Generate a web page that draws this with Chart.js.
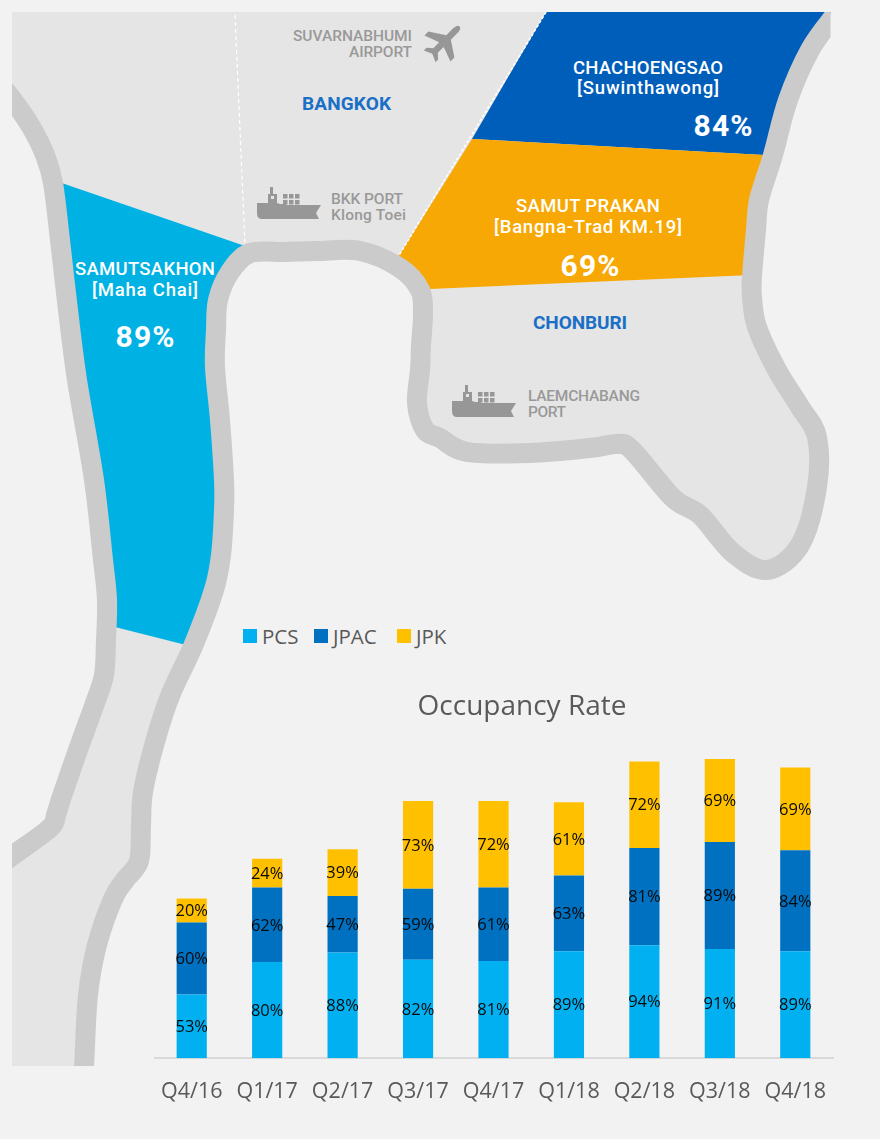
<!DOCTYPE html>
<html>
<head>
<meta charset="utf-8">
<title>Occupancy Rate</title>
<script src="https://cdn.jsdelivr.net/npm/chart.js@4"></script>
<style>
  html, body { margin: 0; padding: 0; background: #f2f2f2; }
  #page { position: relative; width: 880px; height: 1139px; overflow: hidden; background: #f2f2f2; }
  #map { position: absolute; left: 0; top: 0; }
  #map text { font-family: Roboto, sans-serif; }
  #chartBox { position: absolute; left: 154px; top: 680px; width: 736px; height: 429px; }
  #legend { position: absolute; left: 0; top: 624px; height: 24px; font: 20.5px "Open Sans", sans-serif; color: #595959; }
  #legend span { position: absolute; top: -2px; white-space: nowrap; }
  #legend i { position: absolute; top: 5px; width: 14px; height: 14px; }
</style>
</head>
<body>
<div id="page">
  <svg id="map" width="880" height="1139" viewBox="0 0 880 1139">
    <defs>
      <clipPath id="mapClip"><rect x="12" y="12" width="818.5" height="1054"></rect></clipPath>
      <g id="ship" fill="#979797">
        <path d="M0,16 H11 V7 H13 V0 H16 V7 H20 V16 L23,17 H29 V18 H64 L59,26 L62,32 H5 Q0,32 0,26 Z"></path>
        <path d="M14,9 h3 v3 h-3 Z" fill="#e5e5e5"></path>
        <rect x="26" y="7" width="4.5" height="4.5"></rect><rect x="32" y="7" width="4.5" height="4.5"></rect><rect x="38" y="7" width="4.5" height="4.5"></rect>
        <rect x="26" y="13" width="4.5" height="4.5"></rect><rect x="32" y="13" width="4.5" height="4.5"></rect><rect x="38" y="13" width="4.5" height="4.5"></rect>
      </g>
    </defs>
    <g clip-path="url(#mapClip)">
      <path id="land" fill="#e5e5e5"></path>
      <path id="samutsakhon" fill="#00b2e3"></path>
      <path id="chachoengsao" fill="#005ebb"></path>
      <path id="samutprakan" fill="#f7a804"></path>
      <line x1="235" y1="15" x2="245" y2="245" stroke="#fff" stroke-width="1.2" stroke-dasharray="4 3"></line>
      <line x1="546" y1="12" x2="398" y2="257" stroke="#fff" stroke-width="1.6" stroke-dasharray="3 2"></line>
      <path id="leftBank" fill="none" stroke="#cbcbcb" stroke-width="20"></path>
      <path id="rightBank" fill="none" stroke="#cbcbcb" stroke-width="20"></path>
    </g>
    <use href="#ship" x="257" y="187"></use>
    <use href="#ship" x="452" y="385"></use>
    <path transform="translate(444 42) rotate(45) scale(.92)" fill="#979797"
      d="M0,-24 Q3.5,-24 3.5,-16 V-7 L20,4 V10 L3.5,4 V13 L9,18 V22 L0,18 L-9,22 V18 L-3.5,13 V4 L-20,10 V4 L-3.5,-7 V-16 Q-3.5,-24 0,-24 Z"></path>

    <g fill="#999" font-weight="500" font-size="15.5" text-anchor="end">
      <text x="412" y="41" textLength="119">SUVARNABHUMI</text>
      <text x="412" y="57" textLength="63">AIRPORT</text>
    </g>
    <g fill="#999" font-weight="500" font-size="15.5">
      <text x="331" y="204" textLength="72">BKK PORT</text>
      <text x="331" y="220" textLength="75">Klong Toei</text>
      <text x="528" y="401" textLength="112">LAEMCHABANG</text>
      <text x="528" y="417" textLength="38">PORT</text>
    </g>
    <g fill="#1a6fc6" font-weight="700" font-size="19">
      <text x="302" y="110" textLength="89">BANGKOK</text>
      <text x="533" y="329" textLength="94">CHONBURI</text>
    </g>
    <g fill="#fff" font-weight="500" font-size="18.5" text-anchor="middle">
      <text x="145" y="275" textLength="140">SAMUTSAKHON</text>
      <text x="145" y="296" textLength="106">[Maha Chai]</text>
      <text x="648" y="74" textLength="150">CHACHOENGSAO</text>
      <text x="648" y="94" textLength="142">[Suwinthawong]</text>
      <text x="588" y="212" textLength="144">SAMUT PRAKAN</text>
      <text x="588" y="233" textLength="188">[Bangna-Trad KM.19]</text>
    </g>
    <g fill="#fff" font-weight="700" font-size="30" text-anchor="middle">
      <text x="145" y="347" textLength="59">89%</text>
      <text x="723" y="136" textLength="59">84%</text>
      <text x="590" y="276" textLength="59">69%</text>
    </g>
  </svg>
  <div id="legend"></div>
  <div id="chartBox"><canvas id="occupancyChart"></canvas></div>
</div>

<script>
// chart values
const quarters = ["Q4/16", "Q1/17", "Q2/17", "Q3/17", "Q4/17", "Q1/18", "Q2/18", "Q3/18", "Q4/18"];
const pcs = [53, 80, 88, 82, 81, 89, 94, 91, 89];
const jpac = [60, 62, 47, 59, 61, 63, 81, 89, 84];
const jpk = [20, 24, 39, 73, 72, 61, 72, 69, 69];

// map outline, only backdrop for the chart
const leftBankPts = [[0,85],[12,99],[30,125],[45,155],[53,183],[60,240],[68,310],[77,380],[94,480],[103,560],[107,600],[106,640],[104,675],[95,703],[78,750],[62,796],[56,815],[50,828],[12,856],[-5,869]];
const rightBankPts = [[82,1075],[84,1066],[88,995],[97,945],[113,899],[125,880],[139,861],[141,825],[143,792],[155,742],[170,696],[194,644],[214,590],[221,555],[224,510],[224,480],[220,420],[215,367],[216,330],[218,300],[230,272],[250,253],[285,252],[317,251],[360,251],[400,268],[420,290],[423,313],[421,345],[420,370],[417,403],[425,430],[440,438],[467,452],[530,453],[590,448],[617,444],[632,450],[673,498],[700,515],[733,553],[767,570],[800,545],[817,487],[817,437],[800,407],[777,370],[757,327],[752,297],[752,277],[756,230],[759,200],[773,155],[788,100],[810,50],[835,15]];

// catmull-rom through the points, as svg path segments
function smooth(pts) {
    let d = "";
    for (let i = 0; i < pts.length - 1; i++) {
        const p0 = pts[Math.max(i - 1, 0)], p1 = pts[i], p2 = pts[i + 1], p3 = pts[Math.min(i + 2, pts.length - 1)];
        const c1 = [p1[0] + (p2[0] - p0[0]) / 6, p1[1] + (p2[1] - p0[1]) / 6];
        const c2 = [p2[0] - (p3[0] - p1[0]) / 6, p2[1] - (p3[1] - p1[1]) / 6];
        d += ` C${c1[0].toFixed(1)},${c1[1].toFixed(1)} ${c2[0].toFixed(1)},${c2[1].toFixed(1)} ${p2[0]},${p2[1]}`;
    }
    return d;
}
const startOf = pts => `M${pts[0][0]},${pts[0][1]}`;
document.getElementById("leftBank").setAttribute("d", startOf(leftBankPts) + smooth(leftBankPts));
document.getElementById("rightBank").setAttribute("d", startOf(rightBankPts) + smooth(rightBankPts));
document.getElementById("land").setAttribute("d",
    startOf(rightBankPts) + smooth(rightBankPts) + " L835,0 L0,0 L0,85" + smooth(leftBankPts) + " L-5,1075 Z");
document.getElementById("samutsakhon").setAttribute("d",
    "M53,180 L245,246 L233,253 L218,290 L215,367 L220,420 L224,480 L224,510 L221,555 L214,590 L194,647 L107,625 L107,600 L94,480 L77,380 L60,240 Z");
document.getElementById("chachoengsao").setAttribute("d",
    "M546,12 L472,139 L773,155.5 L788,100 L810,50 L835,5 L835,12 Z");
document.getElementById("samutprakan").setAttribute("d",
    "M472,139 L773,155.5 L759,200 L756,230 L752,275 L430,289 L398,257 Z");

// values printed in the middle of each segment
const segmentLabels = {
    id: "segmentLabels",
    afterDatasetsDraw(chart) {
        const ctx = chart.ctx;
        ctx.save();
        ctx.font = '16.5px "Open Sans", sans-serif';
        ctx.fillStyle = "#0a0a0a";
        ctx.textAlign = "center";
        ctx.textBaseline = "middle";
        chart.data.datasets.forEach((ds, i) => {
            chart.getDatasetMeta(i).data.forEach((bar, j) => {
                const mid = bar.getCenterPoint();
                ctx.fillText(ds.data[j] + "%", mid.x, mid.y + 1);
            });
        });
        ctx.restore();
    }
};

// title is centred on the whole canvas, not on the padded part
const titleShift = {
    id: "titleShift",
    afterLayout(chart) {
        chart.titleBlock.right += 57;
    }
};

const chart = new Chart(document.getElementById("occupancyChart").getContext("2d"), {
    type: "bar",
    data: {
        labels: quarters,
        datasets: [
            { label: "PCS", data: pcs, backgroundColor: "#00b0f0" },
            { label: "JPAC", data: jpac, backgroundColor: "#0070c0" },
            { label: "JPK", data: jpk, backgroundColor: "#ffc000" }
        ]
    },
    options: {
        responsive: true,
        maintainAspectRatio: false,
        animation: false,
        layout: { padding: { right: 57 } },
        categoryPercentage: 1,
        barPercentage: 0.4,
        plugins: {
            legend: { display: false },
            tooltip: { enabled: false },
            title: {
                display: true,
                text: "Occupancy Rate",
                color: "#595959",
                font: { family: '"Open Sans", sans-serif', size: 28, weight: "normal" },
                padding: { top: 10, bottom: 19 }
            }
        },
        scales: {
            x: {
                stacked: true,
                grid: { display: false, tickLength: 17 },
                border: { color: "#d9d9d9", width: 2 },
                ticks: {
                    color: "#595959",
                    padding: 4,
                    maxRotation: 0,
                    font: { family: '"Open Sans", sans-serif', size: 21.5 }
                }
            },
            y: { stacked: true, display: false, min: 0, max: 262.7 }
        }
    },
    plugins: [segmentLabels, titleShift]
});

// legend sits away from the canvas, above the title
const legendEl = document.getElementById("legend");
const legendX = [243, 314, 397];
chart.data.datasets.forEach((ds, i) => {
    const box = document.createElement("i");
    box.style.left = legendX[i] + "px";
    box.style.background = ds.backgroundColor;
    const name = document.createElement("span");
    name.style.left = (legendX[i] + 19) + "px";
    name.textContent = ds.label;
    legendEl.append(box, name);
});
</script>
</body>
</html>
